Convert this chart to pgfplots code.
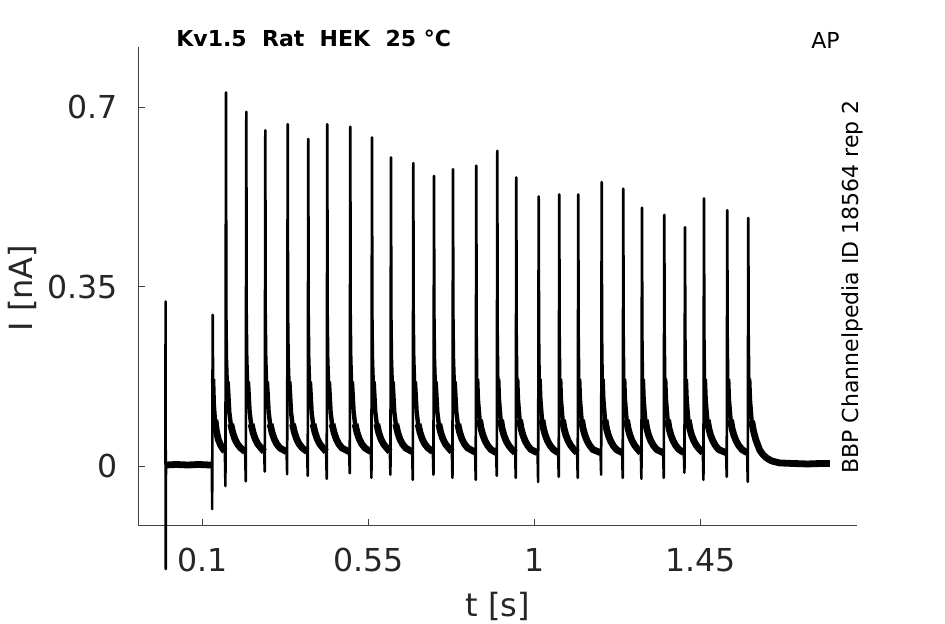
\documentclass[border=0pt]{standalone}
\usepackage{fontspec}
\setmainfont{DejaVu Sans}
\usepackage{pgfplots}
\usepackage{pgfplotstable}
\pgfplotsset{compat=1.18}
\definecolor{axgray}{gray}{0.25}
\definecolor{txtgray}{gray}{0.15}

\pgfplotstableread{
t I
0.0000 0.003
0.0005 0.321
0.0010 -0.201
0.0015 0.002
0.0300 0.003
0.0600 0.002
0.0900 0.003
0.1200 0.002
0.1260 0.002
0.1267 -0.084
0.1282 0.295
0.1292 0.170
0.1312 0.120
0.1342 0.090
0.1382 0.068
0.1432 0.052
0.1502 0.040
0.1572 0.032
0.1612 0.029
0.1627 -0.039
0.1642 0.729
0.1652 0.30
0.1667 0.21
0.1687 0.165
0.1732 0.105
0.1772 0.082
0.1822 0.066
0.1882 0.053
0.1952 0.043
0.2042 0.035
0.2163 0.028
0.2178 -0.030
0.2193 0.691
0.2203 0.30
0.2218 0.21
0.2238 0.165
0.2283 0.105
0.2323 0.082
0.2373 0.066
0.2433 0.053
0.2503 0.043
0.2593 0.035
0.2678 0.028
0.2693 -0.011
0.2708 0.655
0.2718 0.30
0.2733 0.21
0.2753 0.165
0.2798 0.105
0.2838 0.082
0.2888 0.066
0.2948 0.053
0.3018 0.043
0.3108 0.035
0.3285 0.028
0.3300 -0.016
0.3315 0.667
0.3325 0.30
0.3340 0.21
0.3360 0.165
0.3405 0.105
0.3445 0.082
0.3495 0.066
0.3555 0.053
0.3625 0.043
0.3715 0.035
0.3843 0.028
0.3858 -0.019
0.3873 0.638
0.3883 0.30
0.3898 0.21
0.3918 0.165
0.3963 0.105
0.4003 0.082
0.4053 0.066
0.4113 0.053
0.4183 0.043
0.4273 0.035
0.4358 0.028
0.4373 -0.025
0.4388 0.667
0.4398 0.30
0.4413 0.21
0.4433 0.165
0.4478 0.105
0.4518 0.082
0.4568 0.066
0.4628 0.053
0.4698 0.043
0.4788 0.035
0.4982 0.028
0.4997 -0.014
0.5012 0.662
0.5022 0.30
0.5037 0.21
0.5057 0.165
0.5102 0.105
0.5142 0.082
0.5192 0.066
0.5252 0.053
0.5322 0.043
0.5412 0.035
0.5570 0.028
0.5585 -0.023
0.5600 0.641
0.5610 0.30
0.5625 0.21
0.5645 0.165
0.5690 0.105
0.5730 0.082
0.5780 0.066
0.5840 0.053
0.5910 0.043
0.6000 0.035
0.6085 0.028
0.6100 -0.017
0.6115 0.602
0.6125 0.30
0.6140 0.21
0.6160 0.165
0.6205 0.105
0.6245 0.082
0.6295 0.066
0.6355 0.053
0.6425 0.043
0.6515 0.035
0.6690 0.028
0.6705 -0.027
0.6720 0.591
0.6730 0.30
0.6745 0.21
0.6765 0.165
0.6810 0.105
0.6850 0.082
0.6900 0.066
0.6960 0.053
0.7030 0.043
0.7120 0.035
0.7251 0.028
0.7266 -0.017
0.7281 0.566
0.7291 0.30
0.7306 0.21
0.7326 0.165
0.7371 0.105
0.7411 0.082
0.7461 0.066
0.7521 0.053
0.7591 0.043
0.7681 0.035
0.7766 0.028
0.7781 -0.023
0.7796 0.579
0.7806 0.30
0.7821 0.21
0.7841 0.165
0.7886 0.105
0.7926 0.082
0.7976 0.066
0.8036 0.053
0.8106 0.043
0.8196 0.035
0.8397 0.027
0.8412 -0.027
0.8427 0.586
0.8437 0.26
0.8452 0.17
0.8472 0.13
0.8517 0.090
0.8557 0.073
0.8607 0.060
0.8667 0.049
0.8737 0.040
0.8827 0.032
0.8967 0.026
0.8982 -0.019
0.8997 0.615
0.9007 0.26
0.9022 0.17
0.9042 0.13
0.9087 0.090
0.9127 0.073
0.9177 0.060
0.9237 0.049
0.9307 0.040
0.9397 0.032
0.9482 0.026
0.9497 -0.023
0.9512 0.563
0.9522 0.26
0.9537 0.17
0.9557 0.13
0.9602 0.090
0.9642 0.073
0.9692 0.060
0.9752 0.049
0.9822 0.040
0.9912 0.032
1.0089 0.026
1.0104 -0.031
1.0119 0.526
1.0129 0.26
1.0144 0.17
1.0164 0.13
1.0209 0.090
1.0249 0.073
1.0299 0.060
1.0359 0.049
1.0429 0.040
1.0519 0.032
1.0647 0.026
1.0662 -0.021
1.0677 0.530
1.0687 0.26
1.0702 0.17
1.0722 0.13
1.0767 0.090
1.0807 0.073
1.0857 0.060
1.0917 0.049
1.0987 0.040
1.1077 0.032
1.1162 0.026
1.1177 -0.023
1.1192 0.530
1.1202 0.26
1.1217 0.17
1.1237 0.13
1.1282 0.090
1.1322 0.073
1.1372 0.060
1.1432 0.049
1.1502 0.040
1.1592 0.032
1.1797 0.026
1.1812 -0.017
1.1827 0.554
1.1837 0.26
1.1852 0.17
1.1872 0.13
1.1917 0.090
1.1957 0.073
1.2007 0.060
1.2067 0.049
1.2137 0.040
1.2227 0.032
1.2382 0.026
1.2397 -0.023
1.2412 0.541
1.2422 0.26
1.2437 0.17
1.2457 0.13
1.2502 0.090
1.2542 0.073
1.2592 0.060
1.2652 0.049
1.2722 0.040
1.2812 0.032
1.2889 0.026
1.2904 -0.025
1.2919 0.504
1.2929 0.26
1.2944 0.17
1.2964 0.13
1.3009 0.090
1.3049 0.073
1.3099 0.060
1.3159 0.049
1.3229 0.040
1.3319 0.032
1.3494 0.026
1.3509 -0.023
1.3524 0.490
1.3534 0.26
1.3549 0.17
1.3569 0.13
1.3614 0.090
1.3654 0.073
1.3704 0.060
1.3764 0.049
1.3834 0.040
1.3924 0.032
1.4055 0.026
1.4070 -0.013
1.4085 0.466
1.4095 0.26
1.4110 0.17
1.4130 0.13
1.4175 0.090
1.4215 0.073
1.4265 0.060
1.4325 0.049
1.4395 0.040
1.4485 0.032
1.4570 0.026
1.4585 -0.027
1.4600 0.522
1.4610 0.26
1.4625 0.17
1.4645 0.13
1.4690 0.090
1.4730 0.073
1.4780 0.060
1.4840 0.049
1.4910 0.040
1.5000 0.032
1.5201 0.026
1.5216 -0.021
1.5231 0.499
1.5241 0.26
1.5256 0.17
1.5276 0.13
1.5321 0.090
1.5361 0.073
1.5411 0.060
1.5471 0.049
1.5541 0.040
1.5631 0.032
1.5771 0.026
1.5786 -0.031
1.5801 0.484
1.5811 0.26
1.5826 0.17
1.5846 0.13
1.5891 0.088
1.5937 0.070
1.6001 0.052
1.6111 0.031
1.6201 0.022
1.6291 0.016
1.6401 0.011
1.6481 0.009
1.6651 0.006
1.7000 0.005
1.7400 0.004
1.7800 0.005
1.8010 0.005
}\trace

\begin{document}
\begin{tikzpicture}
\useasboundingbox (-69.15pt,-49pt) rectangle (403.35pt,263pt);
\begin{axis}[
  at={(0pt,0pt)}, anchor=south west,
  scale only axis, width=359.2pt, height=239.65pt,
  xmin=-0.0735, xmax=1.874, ymin=-0.117, ymax=0.818,
  axis x line*=bottom, axis y line*=left,
  axis line style={axgray, line width=0.5pt, -},
  xtick={0.1,0.55,1,1.45}, xticklabels={0.1,0.55,1,1.45},
  ytick={0,0.35,0.7}, yticklabels={0,0.35,0.7},
  tick align=inside, major tick length=3.5pt,
  tick style={axgray, line width=0.5pt},
  /pgf/number format/assume math mode=true,
  ticklabel style={font=\fontsize{15.8}{18}\selectfont, text=txtgray, inner sep=0pt},
  xticklabel style={anchor=base, yshift=-22.85pt},
  yticklabel style={anchor=east, xshift=-10pt},
  clip=false,
]
\addplot[black, line width=1.3pt, line join=round] table[x=t,y=I]{\trace};
\addplot[black, line width=2.2pt, line join=round, line cap=butt,
  restrict y to domain=-0.009:0.17, unbounded coords=jump] table[x=t,y=I]{\trace};
\addplot[black, line width=3.4pt, line join=round, line cap=butt,
  restrict y to domain=-0.009:0.095, unbounded coords=jump] table[x=t,y=I]{\trace};
\end{axis}
\node[font=\fontsize{16}{19}\selectfont, text=txtgray, anchor=base] at (179.6pt,-45.5pt) {t [s]};
\node[font=\fontsize{16}{19}\selectfont, text=txtgray, anchor=base, rotate=90] at (-53pt,119pt) {I [nA]};
\node[font=\bfseries\fontsize{11}{13}\selectfont, anchor=base west, inner sep=0pt] at (18.85pt,239.65pt) {Kv1.5\ \ Rat\ \ HEK\ \ 25 °C};
\node[font=\fontsize{11}{13}\selectfont, anchor=base west, inner sep=0pt] at (336.35pt,238.85pt) {AP};
\node[font=\fontsize{11}{13}\selectfont, anchor=base west, inner sep=0pt, rotate=90] at (360pt,26pt) {BBP Channelpedia ID 18564 rep 2};
\end{tikzpicture}
\end{document}
